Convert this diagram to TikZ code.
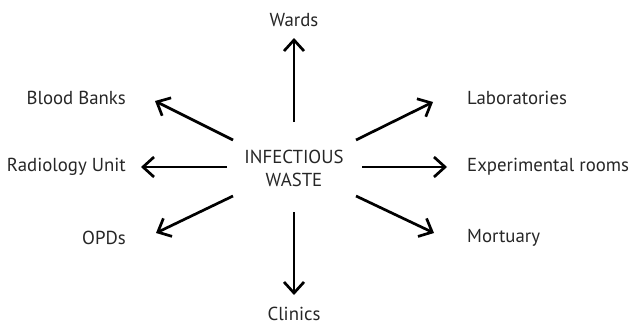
\documentclass[tikz,border=0pt]{standalone}
\usepackage{fontspec}
\setmainfont{PT Sans}
\usetikzlibrary{arrows.meta}
\begin{document}
\begin{tikzpicture}[x=1pt,y=-1pt,
  lbl/.style={font=\fontsize{18.8}{22}\selectfont, inner sep=0pt, text=black!85},
  arr/.style={line width=2.7pt, -{Straight Barb[length=11pt,width=20pt,line width=2.7pt]}}]
\useasboundingbox (0,0) rectangle (631,324);
\node[lbl, align=center] (c) at (294,168) {INFECTIOUS\\[1pt]WASTE};
\node[lbl] (wards) at (294,20) {Wards};
\node[lbl, anchor=base] (clinics) at (294,320) {Clinics};
\node[lbl, anchor=east] (blood) at (126,98) {Blood Banks};
\node[lbl, anchor=east] (radio) at (126,167) {Radiology Unit};
\node[lbl, anchor=east] (opd) at (126,238) {OPDs};
\node[lbl, anchor=west] (lab) at (467,98) {Laboratories};
\node[lbl, anchor=west] (exp) at (467,167) {Experimental rooms};
\node[lbl, anchor=west] (mort) at (467,238) {Mortuary};
\coordinate (s1) at (294,122); \coordinate (t1) at (294,38);
\coordinate (s2) at (294,212); \coordinate (t2) at (294,295);
\coordinate (s3) at (233,140); \coordinate (t3) at (155,101);
\coordinate (s4) at (227,167); \coordinate (t4) at (141,167);
\coordinate (s5) at (233,196); \coordinate (t5) at (156,233);
\coordinate (s6) at (356,140); \coordinate (t6) at (433,102);
\coordinate (s7) at (362,167); \coordinate (t7) at (447,167);
\coordinate (s8) at (356,196); \coordinate (t8) at (434,233);
\foreach \i in {1,...,8} {\draw[arr] (s\i) -- (t\i);}
\end{tikzpicture}
\end{document}
